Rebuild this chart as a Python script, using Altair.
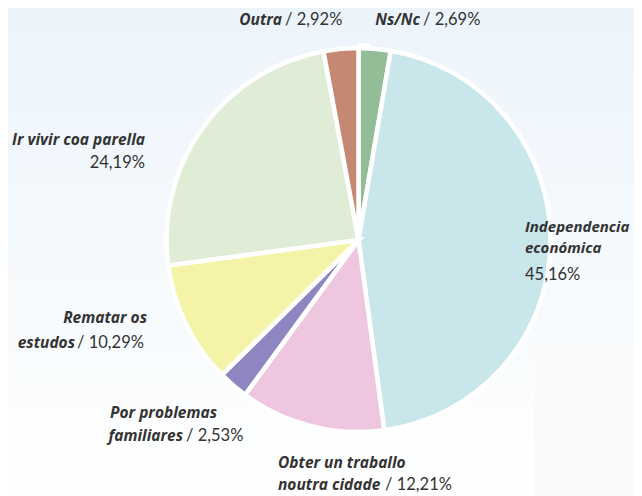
import altair as alt
import pandas as pd

categories = ["Ns/Nc", "Independencia económica", "Obter un traballo noutra cidade",
              "Por problemas familiares", "Rematar os estudos", "Ir vivir coa parella", "Outra"]
values = [2.69, 45.16, 12.21, 2.53, 10.29, 24.19, 2.92]
colors = ["#93BD96", "#C9E6EB", "#EEC6DF", "#8E86C0", "#F5F3A8", "#DFEDD6", "#C58872"]

df = pd.DataFrame({"cat": categories, "val": values, "ord": list(range(len(values)))})

W, H = 626, 488
CX, CY, R = 350.5, 232, 192
TXT = "#333333"

bg = alt.Chart(pd.DataFrame({"a": [0]})).mark_rect(
    fill=alt.Gradient(gradient="linear", x1=0, y1=0, x2=0, y2=1,
                      stops=[alt.GradientStop(color="#ECF4FB", offset=0),
                             alt.GradientStop(color="#F6FAFD", offset=0.55),
                             alt.GradientStop(color="#FFFFFF", offset=1)])
).encode(x=alt.value(0), x2=alt.value(W), y=alt.value(0), y2=alt.value(H))

grey = alt.Chart(pd.DataFrame({"a": [0]})).mark_rect(fill="#F9F9F9").encode(
    x=alt.value(527), x2=alt.value(W), y=alt.value(337), y2=alt.value(H))

ring = alt.Chart(pd.DataFrame({"a": [1]})).mark_arc(fill="white", radius=R + 5).encode(
    theta=alt.Theta("a:Q"), x=alt.value(CX), y=alt.value(CY))

pie = alt.Chart(df).mark_arc(radius=R, stroke="white", strokeWidth=4.5).encode(
    theta=alt.Theta("val:Q", stack=True),
    order=alt.Order("ord:Q"),
    color=alt.Color("cat:N", scale=alt.Scale(domain=categories, range=colors), legend=None),
    x=alt.value(CX), y=alt.value(CY),
)

def txt(s, x, y, align, bold, size=15.5):
    props = dict(align=align, baseline="alphabetic", color=TXT, x=x, y=y)
    if bold:
        props.update(font="Open Sans", fontSize=size, fontWeight="bold", fontStyle="italic")
    else:
        props.update(font="Lato", fontSize=16.5)
    return alt.Chart(pd.DataFrame({"t": [s]})).mark_text(**props).encode(text="t:N")

labels = [
    txt("Outra", 274, 17, "right", True), txt("/ 2,92%", 277, 17, "left", False),
    txt("Ns/Nc", 412, 17, "right", True), txt("/ 2,69%", 415, 17, "left", False),
    txt("Ir vivir coa parella", 137, 137, "right", True), txt("24,19%", 137, 160, "right", False),
    txt("Independencia", 517, 224, "left", True, 15), txt("económica", 517, 245, "left", True, 15),
    txt("45,16%", 517, 272, "left", False),
    txt("Rematar os", 139, 315, "right", True), txt("estudos", 67, 340, "right", True),
    txt("/ 10,29%", 69, 340, "left", False),
    txt("Por problemas", 209, 410, "right", True), txt("familiares", 175, 433, "right", True),
    txt("/ 2,53%", 178, 433, "left", False),
    txt("Obter un traballo", 270, 460, "left", True), txt("noutra cidade", 270, 482, "left", True),
    txt("/ 12,21%", 377, 482, "left", False),
]

chart = alt.layer(bg, grey, ring, pie, *labels).properties(
    width=W, height=H, padding=0, autosize=alt.AutoSizeParams(type="none"),
    background="white"
).configure_view(strokeWidth=0)

chart.save("out.html", embed_options={"renderer": "svg", "actions": False})
